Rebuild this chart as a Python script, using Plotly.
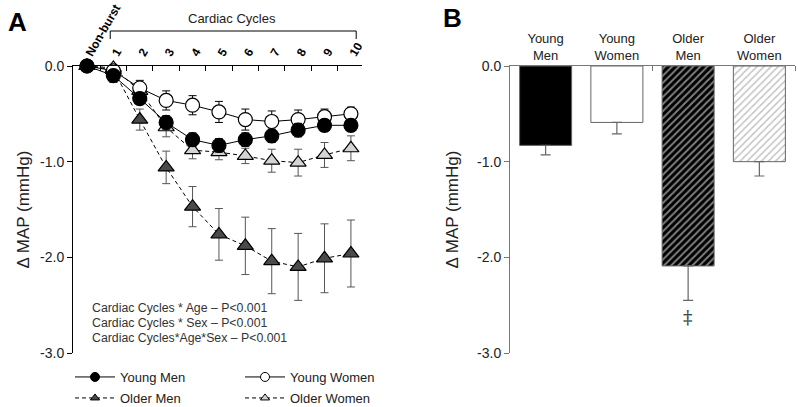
import plotly.graph_objects as go

# ---------------- data ----------------
cycles = list(range(0, 11))
cycle_labels = ["Non-burst", "1", "2", "3", "4", "5", "6", "7", "8", "9", "10"]

young_men = [0.0, -0.10, -0.34, -0.59, -0.77, -0.83, -0.77, -0.73, -0.67, -0.62, -0.62]
young_men_err = [0.0, 0.05, 0.06, 0.07, 0.07, 0.07, 0.07, 0.07, 0.07, 0.06, 0.06]

young_women = [0.0, -0.05, -0.23, -0.36, -0.41, -0.48, -0.56, -0.58, -0.56, -0.53, -0.50]
young_women_err = [0.0, 0.12, 0.08, 0.10, 0.10, 0.11, 0.11, 0.11, 0.10, 0.08, 0.07]

older_men = [0.0, -0.04, -0.56, -1.06, -1.47, -1.76, -1.88, -2.04, -2.10, -2.01, -1.96]
older_men_err = [0.0, 0.05, 0.11, 0.17, 0.21, 0.27, 0.30, 0.34, 0.35, 0.36, 0.35]

older_women = [0.0, -0.02, -0.26, -0.64, -0.88, -0.90, -0.94, -0.99, -1.01, -0.93, -0.86]
older_women_err = [0.0, 0.04, 0.08, 0.10, 0.09, 0.08, 0.08, 0.12, 0.14, 0.13, 0.13]

groups = ["Young<br>Men", "Young<br>Women", "Older<br>Men", "Older<br>Women"]
group_mean = [-0.83, -0.59, -2.09, -1.00]
group_err = [0.10, 0.12, 0.36, 0.15]

stats_lines = ["Cardiac Cycles * Age \u2013 P<0.001",
               "Cardiac Cycles * Sex \u2013 P<0.001",
               "Cardiac Cycles*Age*Sex \u2013 P<0.001"]

ytick_vals = [0, -1, -2, -3]
ytick_text = ["0.0", "-1.0", "-2.0", "-3.0"]

# ---------------- figure ----------------
W, H = 798, 407
FONT = "Liberation Sans, Arial, sans-serif"

def px_x(p):
    return p / W

def px_y(p):
    return 1 - p / H

fig = go.Figure()

def err(arr, color="black"):
    return dict(type="data", array=arr, visible=True, color=color, thickness=1, width=4)

series = [
    ("Older Men", older_men, older_men_err, "triangle-up", "#4a4a4a", "4px,3px", "#555555", "legend2"),
    ("Older Women", older_women, older_women_err, "triangle-up", "#d4d4d4", "4px,3px", "#555555", "legend2"),
    ("Young Women", young_women, young_women_err, "circle", "white", "solid", "black", "legend"),
    ("Young Men", young_men, young_men_err, "circle", "black", "solid", "black", "legend"),
]
for name, vals, errs, sym, fill, dash, ecol, lg in series:
    fig.add_trace(go.Scatter(
        x=cycles, y=vals, mode="lines+markers", name=name, showlegend=False,
        line=dict(color="black", width=1, dash=dash),
        marker=dict(symbol=sym, size=14, color=fill, line=dict(color="black", width=1.2)),
        error_y=err(errs, ecol), cliponaxis=False))

# legend entries (small markers as in the reference legend)
for name, vals, errs, sym, fill, dash, ecol, lg in series:
    fig.add_trace(go.Scatter(
        x=[None], y=[None], mode="lines+markers", name=name, legend=lg,
        line=dict(color="black", width=1, dash=dash),
        marker=dict(symbol=sym, size=9 if sym == "circle" else 8, color=fill,
                    line=dict(color="black", width=1))))

# Panel B bars
bar_colors = ["black", "white", "black", "white"]
patterns = [
    dict(shape=""),
    dict(shape=""),
    dict(shape="/", fgcolor="white", bgcolor="black", size=5, solidity=0.4),
    dict(shape="/", fgcolor="#8a8a8a", bgcolor="white", size=5, solidity=0.3),
]
for i, g in enumerate(groups):
    fig.add_trace(go.Bar(
        x=[i], y=[group_mean[i]], xaxis="x2", yaxis="y2", width=0.73,
        marker=dict(color=bar_colors[i], line=dict(color="#666666", width=1), pattern=patterns[i]),
        error_y=dict(type="data", symmetric=False, array=[0], arrayminus=[group_err[i]],
                     color="#666666", thickness=1.2, width=5),
        showlegend=False))

axis_font = dict(family=FONT, size=14, color="#222222")

fig.update_layout(
    width=W, height=H, margin=dict(l=0, r=0, t=0, b=0, autoexpand=False),
    paper_bgcolor="white", plot_bgcolor="white",
    font=dict(family=FONT, color="#222222"),
    xaxis=dict(domain=[px_x(73), px_x(362)], range=[-0.53, 10.42], side="top", anchor="y",
               automargin=False,
               tickvals=cycles, ticktext=["<b>%s</b>" % t for t in cycle_labels],
               tickangle=-60, tickfont=dict(family=FONT, size=12, color="black"),
               ticks="", showline=True, linecolor="black", linewidth=1, showgrid=False,
               zeroline=False,
               minor=dict(tickvals=[c + 0.5 for c in cycles[:-1]], ticks="inside",
                          ticklen=5, tickcolor="black", showgrid=False)),
    yaxis=dict(domain=[px_y(353), px_y(66)], range=[-3, 0], anchor="x", automargin=False,
               tickvals=ytick_vals, ticktext=ytick_text, tickfont=axis_font,
               ticks="outside", ticklen=5, tickcolor="black",
               showline=True, linecolor="black", linewidth=1, showgrid=False, zeroline=False,
               title=dict(text="\u0394 MAP (mmHg)", font=dict(family=FONT, size=17, color="#222222"),
                          standoff=6)),
    xaxis2=dict(domain=[px_x(510), px_x(795)], range=[-0.5, 3.5], side="top", anchor="y2",
                automargin=False,
                tickvals=[0, 1, 2, 3], ticktext=groups, tickfont=dict(family=FONT, size=13, color="#222222"),
                ticks="", showline=True, linecolor="#777777", linewidth=1, showgrid=False,
                zeroline=False,
                minor=dict(tickvals=[1.5, 3.5], ticks="inside", ticklen=5, tickcolor="#777777",
                           showgrid=False)),
    yaxis2=dict(domain=[px_y(353), px_y(66)], range=[-3, 0], anchor="x2", automargin=False,
                tickvals=ytick_vals, ticktext=ytick_text, tickfont=axis_font,
                ticks="outside", ticklen=5, tickcolor="#777777",
                showline=True, linecolor="#777777", linewidth=1, showgrid=False, zeroline=False,
                title=dict(text="\u0394 MAP (mmHg)", font=dict(family=FONT, size=17, color="#222222"),
                           standoff=14)),
    legend=dict(orientation="h", x=px_x(70), y=px_y(362), xanchor="left", yanchor="top",
                entrywidth=115, entrywidthmode="pixels", traceorder="reversed",
                font=dict(family=FONT, size=13, color="#222222"),
                bgcolor="rgba(0,0,0,0)", itemwidth=40, tracegroupgap=0),
    legend2=dict(orientation="h", x=px_x(70), y=px_y(383), xanchor="left", yanchor="top",
                 entrywidth=115, entrywidthmode="pixels",
                 font=dict(family=FONT, size=13, color="#222222"),
                 bgcolor="rgba(0,0,0,0)", itemwidth=40, tracegroupgap=0),
    bargap=0.2,
)

# bracket "Cardiac Cycles"
fig.add_shape(type="line", xref="x", yref="paper", x0=0.88, x1=10.2, y0=px_y(31), y1=px_y(31),
              line=dict(color="black", width=1))
fig.add_shape(type="line", xref="x", yref="paper", x0=0.88, x1=0.88, y0=px_y(31), y1=px_y(39),
              line=dict(color="black", width=1))
fig.add_shape(type="line", xref="x", yref="paper", x0=10.2, x1=10.2, y0=px_y(31), y1=px_y(39),
              line=dict(color="black", width=1))
fig.add_annotation(text="Cardiac Cycles", xref="x", yref="paper", x=5.5, y=px_y(18),
                   xanchor="center", yanchor="middle",
                   showarrow=False, font=dict(family=FONT, size=13, color="#222222"))

# stats text
for k, s in enumerate(stats_lines):
    fig.add_annotation(text=s, xref="paper", yref="paper", x=px_x(90), y=px_y(308 + 15 * k),
                       xanchor="left", yanchor="middle", showarrow=False,
                       font=dict(family=FONT, size=12.3, color="#333333"))

# panel letters
fig.add_annotation(text="<b>A</b>", xref="paper", yref="paper", x=px_x(17), y=px_y(22),
                   xanchor="center", yanchor="middle",
                   showarrow=False, font=dict(family=FONT, size=26, color="black"))
fig.add_annotation(text="<b>B</b>", xref="paper", yref="paper", x=px_x(452), y=px_y(18),
                   xanchor="center", yanchor="middle",
                   showarrow=False, font=dict(family=FONT, size=26, color="black"))

# double dagger
fig.add_annotation(text="\u2021", xref="x2", yref="y2", x=2, y=-2.62, showarrow=False,
                   xanchor="center", yanchor="middle",
                   font=dict(family="DejaVu Serif, serif", size=19, color="#444444"))

fig.write_html("out.html", config={"displayModeBar": False},
               post_script="document.body.style.margin='0';document.body.style.padding='0';")
